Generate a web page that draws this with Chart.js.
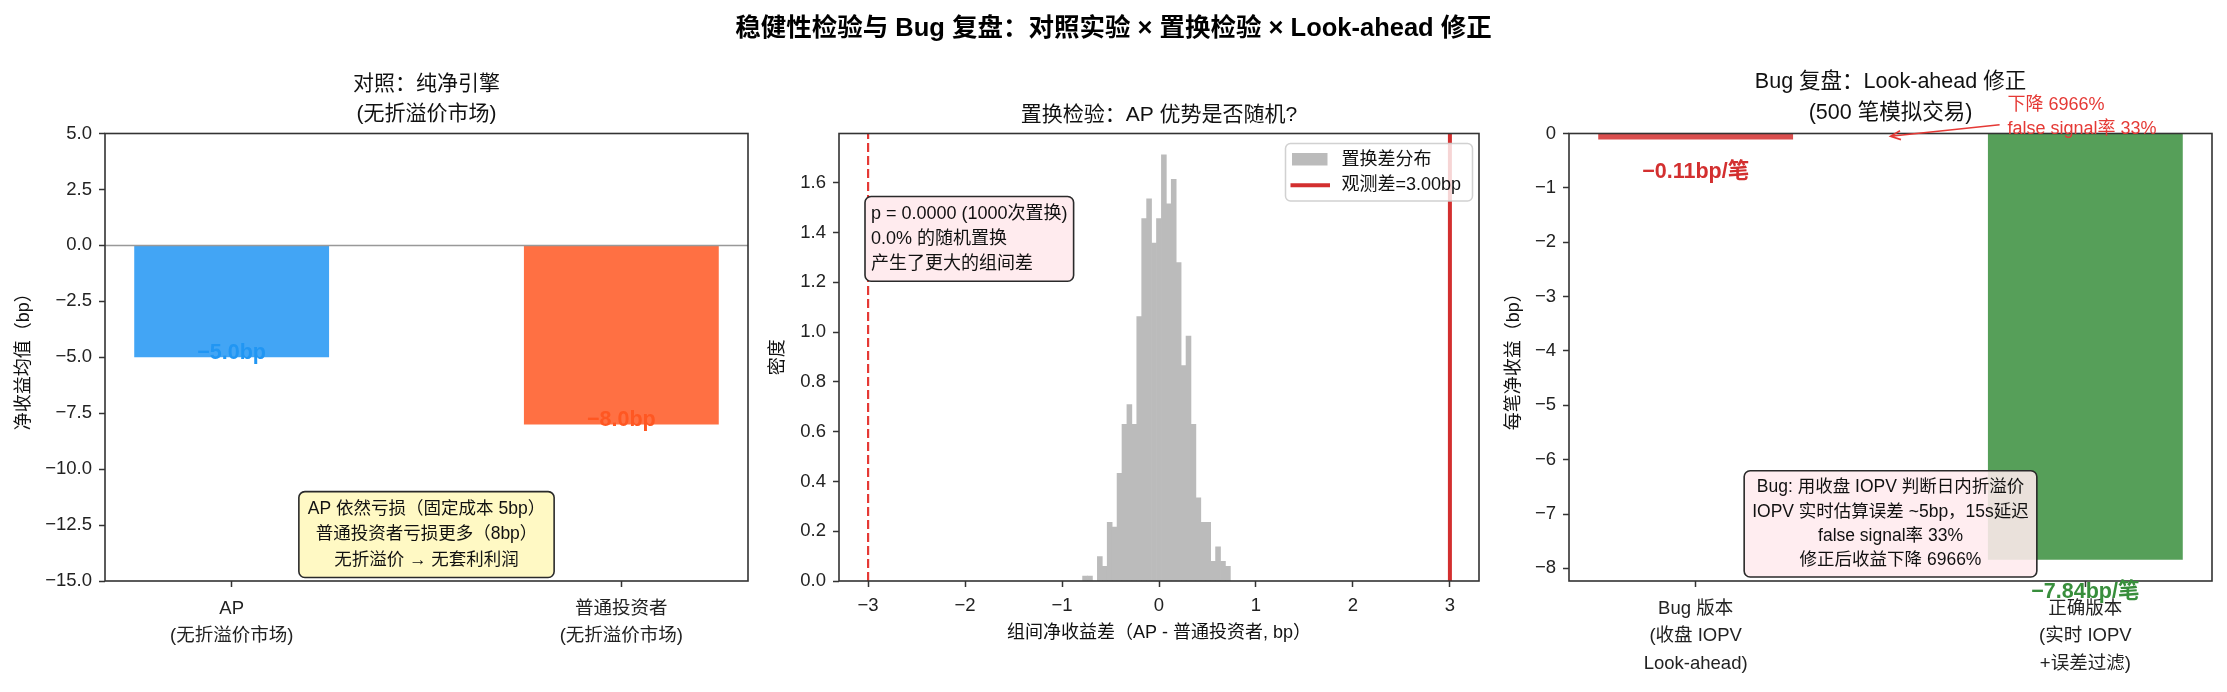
<!DOCTYPE html>
<html lang="zh-CN">
<head>
<meta charset="utf-8">
<title>稳健性检验与 Bug 复盘</title>
<script src="https://cdn.jsdelivr.net/npm/chart.js@4.4.1/dist/chart.umd.min.js"></script>
<style>
  html, body { margin:0; padding:0; background:#fff; }
  #stage { position:relative; width:2227px; height:692px; background:#fff; overflow:hidden; }
  #stage canvas { position:absolute; left:0; top:0; }
  #suptitle { position:absolute; left:0; top:11px; width:2227px; text-align:center;
    font: bold 25.5px "Liberation Sans","Noto Sans CJK SC",sans-serif; line-height:32px; color:#000; }
</style>
</head>
<body>
<div id="stage">
  <canvas id="c1" width="2227" height="692"></canvas>
  <canvas id="c2" width="2227" height="692"></canvas>
  <canvas id="c3" width="2227" height="692"></canvas>
  <div id="suptitle">稳健性检验与 Bug 复盘：对照实验 × 置换检验 × Look-ahead 修正</div>
</div>
<script>
// ================= DATA =================
// Panel 1: control experiment
const ctrlCategories = [['AP', '(无折溢价市场)'], ['普通投资者', '(无折溢价市场)']];
const ctrlValues = [-5.0, -8.0];
const ctrlValueLabels = ['−5.0bp', '−8.0bp'];
const ctrlColors = ['#42A5F5', '#FF7043'];
const ctrlLabelColors = ['#2196F3', '#FF5722'];
const ctrlYTicks = [5, 2.5, 0, -2.5, -5, -7.5, -10, -12.5, -15];
const ctrlTitle = ['对照：纯净引擎', '(无折溢价市场)'];
const ctrlYLabel = '净收益均值（bp）';
const ctrlNote = ['AP 依然亏损（固定成本 5bp）', '普通投资者亏损更多（8bp）', '无折溢价 → 无套利利润'];

// Panel 2: permutation test histogram (1000 permutations, 30 bins)
const permBinStart = -0.788;
const permBinWidth = 0.0508;
const permCounts = [1, 1, 0, 5, 3, 12, 11, 22, 32, 36, 32, 54, 74, 78, 69, 74, 87, 77, 82, 65, 44, 50, 32, 17, 12, 12, 4, 7, 4, 3];
const permTotal = 1000;
const observedDiff = 3.00;
const permXTicks = [-3, -2, -1, 0, 1, 2, 3];
const permYTicks = [0, 0.2, 0.4, 0.6, 0.8, 1.0, 1.2, 1.4, 1.6];
const permTitle = '置换检验：AP 优势是否随机?';
const permXLabel = '组间净收益差（AP - 普通投资者, bp）';
const permYLabel = '密度';
const permNote = ['p = 0.0000 (1000次置换)', '0.0% 的随机置换', '产生了更大的组间差'];
const permLegend = ['置换差分布', '观测差=3.00bp'];

// Panel 3: bug replay
const bugCategories = [['Bug 版本', '(收盘 IOPV', 'Look-ahead)'], ['正确版本', '(实时 IOPV', '+误差过滤)']];
const bugValues = [-0.11, -7.84];
const bugValueLabels = ['−0.11bp/笔', '−7.84bp/笔'];
const bugYTicks = [0, -1, -2, -3, -4, -5, -6, -7, -8];
const bugTitle = ['Bug 复盘：Look-ahead 修正', '(500 笔模拟交易)'];
const bugYLabel = '每笔净收益（bp）';
const bugNote = ['Bug: 用收盘 IOPV 判断日内折溢价', 'IOPV 实时估算误差 ~5bp，15s延迟', 'false signal率 33%', '修正后收益下降 6966%'];
const bugArrowText = ['下降 6966%', 'false signal率 33%'];
const bugArrowHead = [0.5, -0.05];
const bugArrowTail = [0.78, 0.16];
const bugArrowTextAt = [0.8, 0.31];

// ================= LAYOUT / STYLE =================
const W = 2227, H = 692;
const FONT = '"Liberation Sans", "Noto Sans CJK SC", sans-serif';
const YW = 90, XH = 95;
const AX = {
  ctrl: { l: 105, r: 748, t: 133.5, b: 581 },
  perm: { l: 839, r: 1479, t: 133.5, b: 581 },
  bug:  { l: 1569, r: 2212, t: 133.5, b: 581 }
};
const TICK_FONT = { family: FONT, size: 18.5, lineHeight: 1.49 };
const INK = '#222';
const minus = s => String(s).replace('-', '−');

function padFor(a) {
  return { left: a.l - YW, right: W - a.r, top: a.t, bottom: H - a.b - XH };
}
function gridOpts() {
  return { display: true, drawOnChartArea: false, drawTicks: true, tickLength: 6,
           tickWidth: 1.5, tickColor: '#333', color: '#333', offset: false };
}
function xScale(min, max, ticks, cb, pad) {
  return {
    type: 'linear', min, max, offset: false,
    afterBuildTicks: s => { s.ticks = ticks.map(v => ({ value: v })); },
    afterFit: s => { s.height = XH; },
    grid: gridOpts(), border: { display: false },
    ticks: { callback: cb, color: INK, font: TICK_FONT, padding: pad, maxRotation: 0, minRotation: 0, autoSkip: false }
  };
}
function yScale(min, max, ticks, cb) {
  return {
    type: 'linear', min, max, beginAtZero: false,
    afterBuildTicks: s => { s.ticks = ticks.map(v => ({ value: v })); },
    afterFit: s => { s.width = YW; },
    grid: gridOpts(), border: { display: false },
    ticks: { callback: cb, color: INK, font: TICK_FONT, padding: 7, autoSkip: false }
  };
}

// ---------- drawing helpers ----------
function text(ctx, s, x, y, font, color, align = 'center', baseline = 'middle') {
  ctx.save(); ctx.font = font; ctx.fillStyle = color; ctx.textAlign = align; ctx.textBaseline = baseline;
  ctx.fillText(s, x, y); ctx.restore();
}
function vtext(ctx, s, x, y, font, color) {
  ctx.save(); ctx.translate(x, y); ctx.rotate(-Math.PI / 2);
  ctx.font = font; ctx.fillStyle = color; ctx.textAlign = 'center'; ctx.textBaseline = 'middle';
  ctx.fillText(s, 0, 0); ctx.restore();
}
function rrPath(ctx, x, y, w, h, r) {
  ctx.beginPath();
  ctx.moveTo(x + r, y); ctx.lineTo(x + w - r, y); ctx.arcTo(x + w, y, x + w, y + r, r);
  ctx.lineTo(x + w, y + h - r); ctx.arcTo(x + w, y + h, x + w - r, y + h, r);
  ctx.lineTo(x + r, y + h); ctx.arcTo(x, y + h, x, y + h - r, r);
  ctx.lineTo(x, y + r); ctx.arcTo(x, y, x + r, y, r); ctx.closePath();
}
function box(ctx, lines, o) {
  ctx.save(); ctx.font = o.font;
  const tw = Math.max(...lines.map(s => ctx.measureText(s).width));
  const bw = tw + 2 * o.padX, bh = lines.length * o.lineH + 2 * o.padY;
  const bx = o.ax === 'center' ? o.x - bw / 2 : o.x;
  const by = o.ay === 'bottom' ? o.y - bh : o.y;
  rrPath(ctx, bx, by, bw, bh, 6);
  ctx.fillStyle = o.fill; ctx.fill();
  ctx.lineWidth = 1.6; ctx.strokeStyle = o.stroke || '#2a2a2a'; ctx.stroke();
  ctx.fillStyle = o.color || '#111'; ctx.textBaseline = 'middle';
  ctx.textAlign = o.textAlign === 'left' ? 'left' : 'center';
  lines.forEach((s, i) => {
    const ty = by + o.padY + (i + 0.5) * o.lineH;
    const tx = o.textAlign === 'left' ? bx + o.padX : bx + bw / 2;
    ctx.fillText(s, tx, ty);
  });
  ctx.restore();
}
function frame(ctx, ca) {
  ctx.save(); ctx.strokeStyle = '#333'; ctx.lineWidth = 1.6;
  ctx.strokeRect(ca.left, ca.top, ca.right - ca.left, ca.bottom - ca.top); ctx.restore();
}
const F = (size, bold) => (bold ? 'bold ' : '') + size + 'px ' + FONT;

const baseOptions = (a) => ({
  responsive: false, animation: false, devicePixelRatio: 1,
  layout: { padding: padFor(a) },
  plugins: { legend: { display: false }, tooltip: { enabled: false }, title: { display: false } },
  events: []
});

// ================= PANEL 1 =================
new Chart(document.getElementById('c1'), {
  type: 'bar',
  data: { datasets: [{
    data: ctrlValues.map((v, i) => ({ x: i, y: v })),
    backgroundColor: ctrlColors, borderWidth: 0,
    barPercentage: 0.5, categoryPercentage: 1.0
  }] },
  options: Object.assign(baseOptions(AX.ctrl), {
    scales: {
      x: xScale(-0.325, 1.325, [0, 1], v => ctrlCategories[v], 8),
      y: yScale(-15, 5, ctrlYTicks, v => minus(Number(v).toFixed(1)))
    }
  }),
  plugins: [{
    id: 'ctrlExtras',
    afterDraw(chart) {
      const ctx = chart.ctx, ca = chart.chartArea, x = chart.scales.x, y = chart.scales.y;
      // zero line
      ctx.save(); ctx.strokeStyle = '#999'; ctx.lineWidth = 1.5; ctx.beginPath();
      ctx.moveTo(ca.left, y.getPixelForValue(0)); ctx.lineTo(ca.right, y.getPixelForValue(0)); ctx.stroke(); ctx.restore();
      frame(ctx, ca);
      ctrlValues.forEach((v, i) => {
        text(ctx, ctrlValueLabels[i], x.getPixelForValue(i), y.getPixelForValue(v - 0.3), F(21.5, true), ctrlLabelColors[i], 'center', 'bottom');
      });
      box(ctx, ctrlNote, { x: (ca.left + ca.right) / 2, y: ca.bottom - 3.5, ax: 'center', ay: 'bottom',
        font: F(17.5), lineH: 25.3, padX: 9, padY: 5, fill: '#FFF9C4', textAlign: 'center' });
      const cx = (ca.left + ca.right) / 2;
      text(ctx, ctrlTitle[0], cx, 84, F(21), '#111');
      text(ctx, ctrlTitle[1], cx, 114, F(21), '#111');
      vtext(ctx, ctrlYLabel, 24, (ca.top + ca.bottom) / 2, F(18), '#111');
    }
  }]
});

// ================= PANEL 2 =================
const permX = permCounts.map((_, i) => permBinStart + (i + 0.5) * permBinWidth);
const permDensity = permCounts.map(c => c / (permTotal * permBinWidth));
const permYMax = Math.max(...permDensity) * 1.05;

new Chart(document.getElementById('c2'), {
  type: 'bar',
  data: { datasets: [
    { type: 'bar', data: permX.map((xv, i) => ({ x: xv, y: permDensity[i] })),
      backgroundColor: 'rgb(187,187,187)', borderWidth: 0, barPercentage: 1.0, categoryPercentage: 1.0, order: 2 },
    { type: 'line', data: [{ x: -observedDiff, y: 0 }, { x: -observedDiff, y: permYMax }],
      borderColor: '#E53935', borderWidth: 2.2, borderDash: [9, 4], pointRadius: 0, fill: false, order: 1 },
    { type: 'line', data: [{ x: observedDiff, y: 0 }, { x: observedDiff, y: permYMax }],
      borderColor: '#D32F2F', borderWidth: 4, pointRadius: 0, fill: false, order: 0 }
  ] },
  options: Object.assign(baseOptions(AX.perm), {
    scales: {
      x: xScale(-3.3, 3.3, permXTicks, v => minus(v), 5),
      y: yScale(0, permYMax, permYTicks, v => Number(v).toFixed(1))
    }
  }),
  plugins: [{
    id: 'permExtras',
    afterDraw(chart) {
      const ctx = chart.ctx, ca = chart.chartArea;
      frame(ctx, ca);
      const cx = (ca.left + ca.right) / 2;
      text(ctx, permTitle, cx, 115, F(21), '#111');
      text(ctx, permXLabel, cx, 633, F(18), '#111');
      vtext(ctx, permYLabel, 778, (ca.top + ca.bottom) / 2, F(18), '#111');
      box(ctx, permNote, { x: ca.left + 26, y: ca.top + 63, ax: 'left', ay: 'top',
        font: F(18), lineH: 24.9, padX: 6, padY: 5, fill: '#FFEBEE', textAlign: 'left' });
      // legend
      ctx.save();
      const lw = 187, lh = 57.5, lx = ca.right - 6.5 - lw, ly = ca.top + 10;
      rrPath(ctx, lx, ly, lw, lh, 5);
      ctx.fillStyle = 'rgba(255,255,255,0.8)'; ctx.fill();
      ctx.strokeStyle = 'rgba(204,204,204,0.9)'; ctx.lineWidth = 1.5; ctx.stroke();
      ctx.fillStyle = 'rgb(187,187,187)'; ctx.fillRect(lx + 6.5, ly + 9.5, 35.5, 12.5);
      ctx.strokeStyle = '#D32F2F'; ctx.lineWidth = 4; ctx.beginPath();
      ctx.moveTo(lx + 5, ly + 41.7); ctx.lineTo(lx + 44.5, ly + 41.7); ctx.stroke();
      ctx.restore();
      text(ctx, permLegend[0], lx + 56, ly + 16.5, F(18), '#111', 'left');
      text(ctx, permLegend[1], lx + 56, ly + 41.7, F(18), '#111', 'left');
    }
  }]
});

// ================= PANEL 3 =================
const bugYMin = Math.min(...bugValues) * 1.05;
new Chart(document.getElementById('c3'), {
  type: 'bar',
  data: { datasets: [{
    data: bugValues.map((v, i) => ({ x: i, y: v })),
    backgroundColor: ['rgba(211,47,47,0.85)', 'rgba(56,142,60,0.85)'], borderWidth: 0,
    barPercentage: 0.5, categoryPercentage: 1.0
  }] },
  options: Object.assign(baseOptions(AX.bug), {
    scales: {
      x: xScale(-0.325, 1.325, [0, 1], v => bugCategories[v], 8),
      y: yScale(bugYMin, 0, bugYTicks, v => minus(Math.round(v)))
    }
  }),
  plugins: [{
    id: 'bugExtras',
    afterDraw(chart) {
      const ctx = chart.ctx, ca = chart.chartArea, x = chart.scales.x, y = chart.scales.y;
      frame(ctx, ca);
      const labelColors = ['#D32F2F', '#388E3C'];
      bugValues.forEach((v, i) => {
        text(ctx, bugValueLabels[i], x.getPixelForValue(i), y.getPixelForValue(v - 0.4), F(21.5, true), labelColors[i], 'center', 'top');
      });
      // arrow annotation
      const hx = x.getPixelForValue(bugArrowHead[0]), hy = y.getPixelForValue(bugArrowHead[1]);
      const tx = x.getPixelForValue(bugArrowTail[0]), ty = y.getPixelForValue(bugArrowTail[1]);
      ctx.save(); ctx.strokeStyle = '#E53935'; ctx.lineWidth = 1.6; ctx.beginPath();
      ctx.moveTo(tx, ty); ctx.lineTo(hx, hy);
      const ang = Math.atan2(hy - ty, hx - tx), L = 11;
      ctx.moveTo(hx - L * Math.cos(ang - 0.42), hy - L * Math.sin(ang - 0.42)); ctx.lineTo(hx, hy);
      ctx.lineTo(hx - L * Math.cos(ang + 0.42), hy - L * Math.sin(ang + 0.42));
      ctx.stroke(); ctx.restore();
      const ax0 = x.getPixelForValue(bugArrowTextAt[0]), ay0 = y.getPixelForValue(bugArrowTextAt[1]);
      text(ctx, bugArrowText[0], ax0, ay0 - 12.1, F(18), '#E53935', 'left');
      text(ctx, bugArrowText[1], ax0, ay0 + 12.1, F(18), '#E53935', 'left');
      box(ctx, bugNote, { x: (ca.left + ca.right) / 2, y: ca.bottom - 4, ax: 'center', ay: 'bottom',
        font: F(17.5), lineH: 24.3, padX: 8, padY: 4.5, fill: 'rgba(255,235,238,0.88)', textAlign: 'center' });
      const cx = (ca.left + ca.right) / 2;
      text(ctx, bugTitle[0], cx, 82.5, F(21.5), '#111');
      text(ctx, bugTitle[1], cx, 112.7, F(21.5), '#111');
      vtext(ctx, bugYLabel, 1514, (ca.top + ca.bottom) / 2, F(18), '#111');
    }
  }]
});
</script>
</body>
</html>
